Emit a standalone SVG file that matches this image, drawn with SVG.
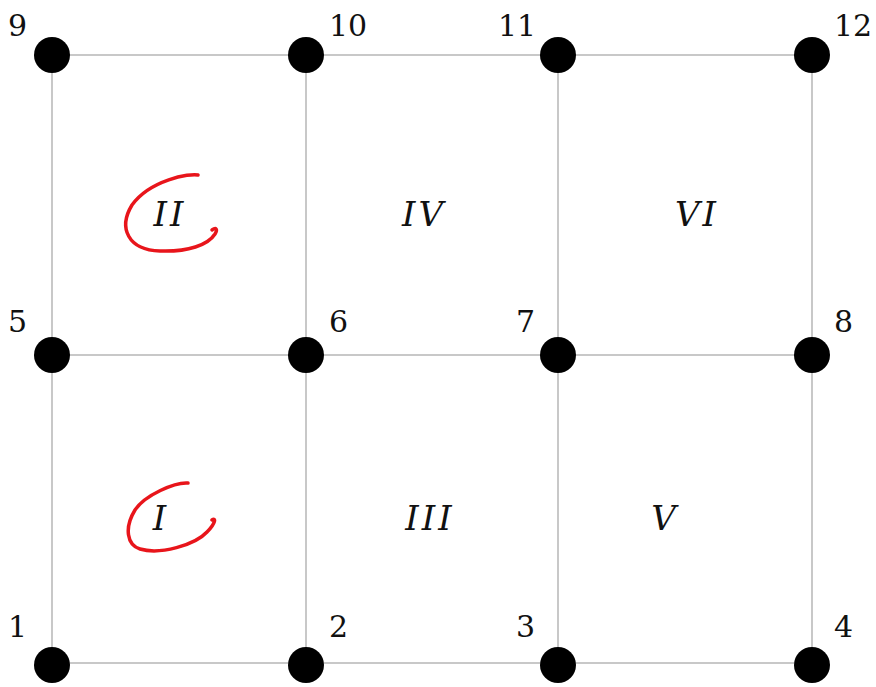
<svg xmlns="http://www.w3.org/2000/svg" width="876" height="687" viewBox="0 0 876 687">
<style>
.e{stroke:#c8c8c8;stroke-width:2;fill:none}
.n{fill:#000}
.lb{font-family:'DejaVu Serif','Liberation Serif',serif;font-size:30px;fill:#111}
.r{font-family:'DejaVu Serif','Liberation Serif',serif;font-size:34px;font-style:italic;fill:#111;text-anchor:middle;letter-spacing:3px}
.m{stroke:#e8151b;stroke-width:3.5;fill:none;stroke-linecap:round}
</style>
<rect width="876" height="687" fill="#fff"/>
<g id="edges">
<line class="e" x1="52" y1="55" x2="812" y2="55"/>
<line class="e" x1="52" y1="355" x2="812" y2="355"/>
<line class="e" x1="52" y1="663" x2="812" y2="663"/>
<line class="e" x1="52" y1="55" x2="52" y2="663"/>
<line class="e" x1="306" y1="55" x2="306" y2="663"/>
<line class="e" x1="558" y1="55" x2="558" y2="663"/>
<line class="e" x1="812" y1="55" x2="812" y2="663"/>
</g>
<g id="n1"><circle class="n" cx="52" cy="665" r="18"/><text class="lb" x="8" y="637">1</text></g>
<g id="n2"><circle class="n" cx="306" cy="665" r="18"/><text class="lb" x="329" y="637">2</text></g>
<g id="n3"><circle class="n" cx="558" cy="665" r="18"/><text class="lb" x="516" y="637">3</text></g>
<g id="n4"><circle class="n" cx="812" cy="665" r="18"/><text class="lb" x="834" y="637">4</text></g>
<g id="n5"><circle class="n" cx="52" cy="355" r="18"/><text class="lb" x="8" y="332">5</text></g>
<g id="n6"><circle class="n" cx="306" cy="355" r="18"/><text class="lb" x="329" y="332">6</text></g>
<g id="n7"><circle class="n" cx="558" cy="355" r="18"/><text class="lb" x="516" y="332">7</text></g>
<g id="n8"><circle class="n" cx="812" cy="355" r="18"/><text class="lb" x="834" y="332">8</text></g>
<g id="n9"><circle class="n" cx="52" cy="55" r="18"/><text class="lb" x="8" y="36">9</text></g>
<g id="n10"><circle class="n" cx="306" cy="55" r="18"/><text class="lb" x="329" y="36">10</text></g>
<g id="n11"><circle class="n" cx="558" cy="55" r="18"/><text class="lb" x="498" y="36">11</text></g>
<g id="n12"><circle class="n" cx="812" cy="55" r="18"/><text class="lb" x="834" y="36">12</text></g>
<g id="regions">
<text class="r" x="170" y="226">II</text>
<text class="r" x="424" y="226">IV</text>
<text class="r" x="697" y="226">VI</text>
<text class="r" x="161" y="530">I</text>
<text class="r" x="430" y="530">III</text>
<text class="r" x="665" y="530">V</text>
</g>
<g id="marks">
<path class="m" d="M198,175 C190,173 150,180 132,205 C118,228 128,250 160,251 C188,252 208,245 215,234 C218,229 216,227 212,230"/>
<path class="m" d="M188,483 C175,482 145,495 135,510 C124,528 127,545 140,549 C160,555 195,545 207,532 C216,523 216,517 212,520"/>
</g>
</svg>
